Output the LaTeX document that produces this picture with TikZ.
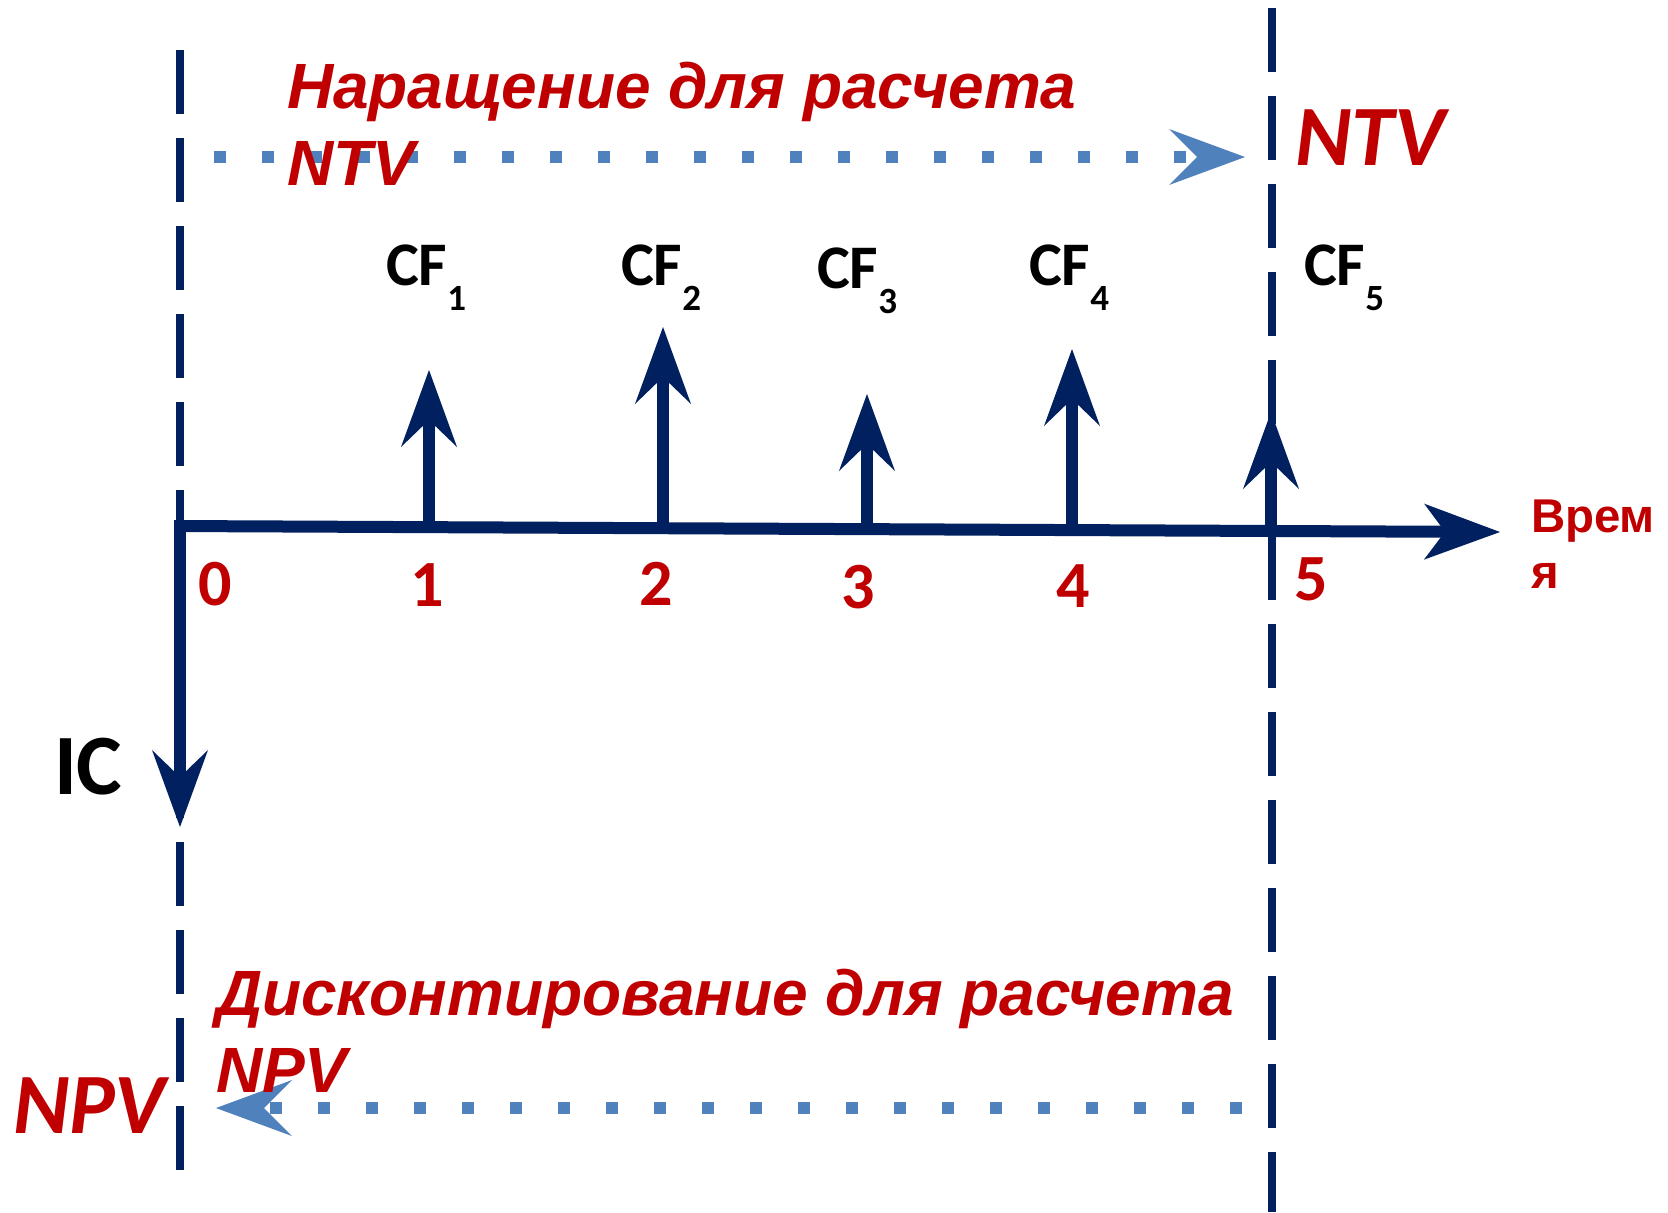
\documentclass[tikz,border=0pt]{standalone}
\usepackage{fontspec}
\setmainfont{Liberation Sans}
\newfontfamily\calfont{Carlito}
\usetikzlibrary{arrows.meta}

\definecolor{navy}{HTML}{002060}
\definecolor{darkred}{HTML}{C00000}
\definecolor{steel}{HTML}{4F81BD}

% subscript index of a cash flow label
\newcommand{\cfsub}[1]{\raisebox{-12.5pt}{\fontsize{18.5}{18.5}\selectfont #1}}

\begin{document}
\begin{tikzpicture}[x=0.5pt,y=-0.5pt,
  every node/.style={inner sep=0pt, outer sep=0pt},
  guide/.style={navy, line width=4pt, dash pattern=on 32pt off 12pt},
  flow/.style={navy, line width=6pt,
    -{Stealth[length=38.5pt,width=28pt,inset=13.5pt,line width=0pt]}},
  axisline/.style={navy, line width=6pt,
    -{Stealth[length=38pt,width=28pt,inset=10.5pt,line width=0pt]}},
  dots/.style={steel, line width=6pt, dash pattern=on 6pt off 18pt,
    -{Stealth[length=38pt,width=28pt,inset=14pt,line width=0pt]}},
  heading/.style={darkred, font=\fontsize{32}{38.5}\selectfont\bfseries\itshape,
    align=left, anchor=base west},
  bigterm/.style={darkred, font=\calfont\fontsize{43}{43}\selectfont\bfseries\itshape,
    anchor=base west},
  cflabel/.style={font=\calfont\fontsize{31}{31}\selectfont\bfseries, anchor=base west},
  tick/.style={darkred, font=\calfont\fontsize{33}{33}\selectfont\bfseries, anchor=base},
]
\fill[white] (0,0) rectangle (1668,1212);
\useasboundingbox (0,0) rectangle (1668,1212);

% period boundaries: t = 0 and t = 5
\coordinate (g0top) at (180,50);
\coordinate (g0bot) at (180,1170);
\coordinate (g5top) at (1272,8);
\coordinate (g5bot) at (1272,1212);
\draw[guide] (g0top) -- (g0bot);
\draw[guide] (g5top) -- (g5bot);

% time axis
\coordinate (o) at (176,526);
\coordinate (tend) at (1500,532);
\draw[axisline] (o) -- (tend);

% initial investment
\coordinate (icbase) at (180,520);
\coordinate (ictip) at (180,827);
\draw[flow] (icbase) -- (ictip);
\node[font=\calfont\fontsize{43}{43}\selectfont\bfseries, anchor=base west] (ic) at (54,794) {IC};

% cash flows
\coordinate (b1) at (429,527);  \coordinate (t1) at (429,370);
\coordinate (b2) at (663,528);  \coordinate (t2) at (663,327);
\coordinate (b3) at (867,529);  \coordinate (t3) at (867,394);
\coordinate (b4) at (1072,530); \coordinate (t4) at (1072,349);
\coordinate (b5) at (1271,531); \coordinate (t5) at (1271,412);
\draw[flow] (b1) -- (t1);
\draw[flow] (b2) -- (t2);
\draw[flow] (b3) -- (t3);
\draw[flow] (b4) -- (t4);
\draw[flow] (b5) -- (t5);

\node[cflabel] (cf1) at (386,285) {CF\cfsub{1}};
\node[cflabel] (cf2) at (621,285) {CF\cfsub{2}};
\node[cflabel] (cf3) at (817,288) {CF\cfsub{3}};
\node[cflabel] (cf4) at (1029,285) {CF\cfsub{4}};
\node[cflabel] (cf5) at (1304,285) {CF\cfsub{5}};

% period numbers
\node[tick] (n0) at (215,605) {0};
\node[tick] (n1) at (427,606) {1};
\node[tick] (n2) at (656,605) {2};
\node[tick] (n3) at (858,608) {3};
\node[tick] (n4) at (1073,607) {4};
\node[tick] (n5) at (1311,600) {5};

% the axis caption wraps onto a second line; the base anchor sits on that line
\node[darkred, font=\fontsize{23.7}{28}\selectfont\bfseries, align=left, anchor=base west]
  (time) at (1531,588) {Врем\\я};

% compounding towards the terminal value
\coordinate (ntvstart) at (214,157);
\coordinate (ntvtip) at (1245,157);
\draw[dots] (ntvstart) -- (ntvtip);
\node[heading] (acc) at (287,185) {Наращение для расчета\\NTV};
\node[bigterm] (ntv) at (1295,165) {NTV};

% discounting back to the present value
\coordinate (npvstart) at (1242,1108);
\coordinate (npvtip) at (216,1108);
\draw[dots] (npvstart) -- (npvtip);
\node[heading] (disc) at (216,1092) {Дисконтирование для расчета\\NPV};
\node[bigterm] (npv) at (13,1133) {NPV};
\end{tikzpicture}
\end{document}
